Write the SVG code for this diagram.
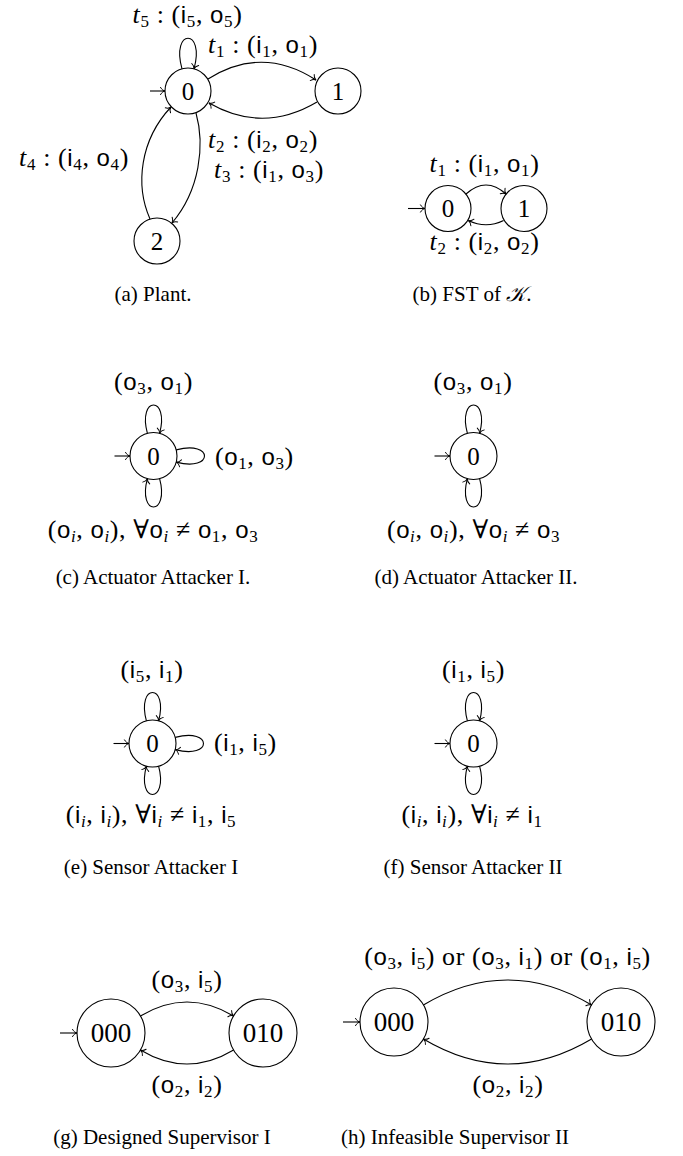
<svg xmlns="http://www.w3.org/2000/svg" width="683" height="1156" viewBox="0 0 683 1156">
<style>
.node circle { fill: none; stroke: #000; stroke-width: 1.1; }
.nl { font-family: "Liberation Serif", "DejaVu Serif", serif; font-size: 25px; text-anchor: middle; fill: #000; }
.nl3 { font-size: 27px; }
.m { font-family: "Liberation Serif", "DejaVu Serif", serif; font-size: 26px; letter-spacing: 0.6px; fill: #000; }
.sf { font-family: "Liberation Sans", "DejaVu Sans", sans-serif; font-size: 24px; }
.it { font-style: italic; }
.s { font-size: 17px; }
.cap { font-family: "Liberation Serif", "DejaVu Serif", serif; font-size: 21px; text-anchor: middle; fill: #000; }
.scr { font-family: "DejaVu Serif", "DejaVu Sans", "Noto Sans", serif; font-style: italic; }
#connectors path { fill: none; stroke: #000; stroke-width: 1.1; marker-end: url(#arr); }
</style>
<defs>
<marker id="arr" markerUnits="userSpaceOnUse" markerWidth="12" markerHeight="12" viewBox="-6 -6 12 12" refX="0" refY="0" orient="auto" overflow="visible">
<path d="M-4.5,-3.6 C-3.2,-1.2 -1.2,-0.2 0,0 C-1.2,0.2 -3.2,1.2 -4.5,3.6" fill="none" stroke="#000" stroke-width="1" stroke-linecap="round"/>
</marker>
</defs>
<rect width="683" height="1156" fill="#fff"/>

<!-- (a) Plant -->
<g id="a-n0" class="node"><circle cx="188" cy="91" r="23"/><text class="nl" x="188" y="99.5">0</text></g>
<g id="a-n1" class="node"><circle cx="338" cy="91" r="23"/><text class="nl" x="338" y="99.5">1</text></g>
<g id="a-n2" class="node"><circle cx="157" cy="241" r="23"/><text class="nl" x="157" y="249.5">2</text></g>

<!-- (b) FST -->
<g id="b-n0" class="node"><circle cx="448" cy="208.5" r="23"/><text class="nl" x="448" y="217">0</text></g>
<g id="b-n1" class="node"><circle cx="524" cy="208.5" r="23"/><text class="nl" x="524" y="217">1</text></g>

<!-- (c) -->
<g id="c-n0" class="node"><circle cx="153.5" cy="456" r="23.5"/><text class="nl" x="153.5" y="464.5">0</text></g>
<!-- (d) -->
<g id="d-n0" class="node"><circle cx="473.5" cy="456" r="23.5"/><text class="nl" x="473.5" y="464.5">0</text></g>
<!-- (e) -->
<g id="e-n0" class="node"><circle cx="152.5" cy="743.5" r="23.5"/><text class="nl" x="152.5" y="752">0</text></g>
<!-- (f) -->
<g id="f-n0" class="node"><circle cx="473.5" cy="743.5" r="23.5"/><text class="nl" x="473.5" y="752">0</text></g>

<!-- (g) -->
<g id="g-n000" class="node"><circle cx="111" cy="1033" r="34"/><text class="nl nl3" x="111" y="1042">000</text></g>
<g id="g-n010" class="node"><circle cx="263" cy="1033" r="34"/><text class="nl nl3" x="263" y="1042">010</text></g>
<!-- (h) -->
<g id="h-n000" class="node"><circle cx="394" cy="1022" r="34"/><text class="nl nl3" x="394" y="1031">000</text></g>
<g id="h-n010" class="node"><circle cx="621" cy="1022" r="34"/><text class="nl nl3" x="621" y="1031">010</text></g>

<g id="connectors">
<!-- (a) -->
<path d="M150,91 H165"/>
<path d="M182,68.8 C170.6,28 205.4,28 194,68.8"/>
<path d="M208,79 Q262,45 316,80"/>
<path d="M317,102 Q263,134 209,103"/>
<path d="M196,113 C205,145 200,190 172,223"/>
<path d="M150,219 C135,185 140,140 171,107"/>
<!-- (b) -->
<path d="M408,208.5 H425"/>
<path d="M466,194 Q486,176 506,194"/>
<path d="M503.6,220.5 Q486,229 468.4,220.5"/>
<!-- (c) -->
<g transform="translate(153.5,456)">
<path d="M-39,0 H-23.5"/>
<path d="M-6.1,-22.7 C-16.2,-60.4 16.2,-60.4 6.1,-22.7"/>
<path d="M22.7,-6.1 C60.4,-16.2 60.4,16.2 22.7,6.1"/>
<path d="M6.1,22.7 C16.2,60.4 -16.2,60.4 -6.1,22.7"/>
</g>
<!-- (d) -->
<g transform="translate(473.5,456)">
<path d="M-39,0 H-23.5"/>
<path d="M-6.1,-22.7 C-16.2,-60.4 16.2,-60.4 6.1,-22.7"/>
<path d="M6.1,22.7 C16.2,60.4 -16.2,60.4 -6.1,22.7"/>
</g>
<!-- (e) -->
<g transform="translate(152.5,743.5)">
<path d="M-39,0 H-23.5"/>
<path d="M-6.1,-22.7 C-16.2,-60.4 16.2,-60.4 6.1,-22.7"/>
<path d="M22.7,-6.1 C60.4,-16.2 60.4,16.2 22.7,6.1"/>
<path d="M6.1,22.7 C16.2,60.4 -16.2,60.4 -6.1,22.7"/>
</g>
<!-- (f) -->
<g transform="translate(473.5,743.5)">
<path d="M-39,0 H-23.5"/>
<path d="M-6.1,-22.7 C-16.2,-60.4 16.2,-60.4 6.1,-22.7"/>
<path d="M6.1,22.7 C16.2,60.4 -16.2,60.4 -6.1,22.7"/>
</g>
<!-- (g) -->
<path d="M60,1033 H77"/>
<path d="M140.4,1016 Q187,988 233.6,1016"/>
<path d="M233.6,1050 Q187,1078 140.4,1050"/>
<!-- (h) -->
<path d="M343,1022 H360"/>
<path d="M423.4,1005 Q507.5,955 591.6,1005"/>
<path d="M591.6,1039 Q507.5,1089 423.4,1039"/>
</g>

<g id="labels">
<!-- (a) -->
<text class="m" x="187.5" y="22.5" text-anchor="middle" font-size="24" letter-spacing="1"><tspan class="it">t</tspan><tspan class="s" font-size="16" dy="4">5</tspan><tspan dy="-4"> : (</tspan><tspan class="sf" font-size="22">i</tspan><tspan class="s" font-size="16" dy="4">5</tspan><tspan dy="-4">, </tspan><tspan class="sf" font-size="22">o</tspan><tspan class="s" font-size="16" dy="4">5</tspan><tspan dy="-4">)</tspan></text>
<text class="m" x="263" y="53" text-anchor="middle"><tspan class="it">t</tspan><tspan class="s" dy="4">1</tspan><tspan dy="-4"> : (</tspan><tspan class="sf">i</tspan><tspan class="s" dy="4">1</tspan><tspan dy="-4">, </tspan><tspan class="sf">o</tspan><tspan class="s" dy="4">1</tspan><tspan dy="-4">)</tspan></text>
<text class="m" x="263" y="148" text-anchor="middle"><tspan class="it">t</tspan><tspan class="s" dy="4">2</tspan><tspan dy="-4"> : (</tspan><tspan class="sf">i</tspan><tspan class="s" dy="4">2</tspan><tspan dy="-4">, </tspan><tspan class="sf">o</tspan><tspan class="s" dy="4">2</tspan><tspan dy="-4">)</tspan></text>
<text class="m" x="269" y="178" text-anchor="middle"><tspan class="it">t</tspan><tspan class="s" dy="4">3</tspan><tspan dy="-4"> : (</tspan><tspan class="sf">i</tspan><tspan class="s" dy="4">1</tspan><tspan dy="-4">, </tspan><tspan class="sf">o</tspan><tspan class="s" dy="4">3</tspan><tspan dy="-4">)</tspan></text>
<text class="m" x="74" y="166" text-anchor="middle"><tspan class="it">t</tspan><tspan class="s" dy="4">4</tspan><tspan dy="-4"> : (</tspan><tspan class="sf">i</tspan><tspan class="s" dy="4">4</tspan><tspan dy="-4">, </tspan><tspan class="sf">o</tspan><tspan class="s" dy="4">4</tspan><tspan dy="-4">)</tspan></text>
<!-- (b) -->
<text class="m" x="484.5" y="172" text-anchor="middle"><tspan class="it">t</tspan><tspan class="s" dy="4">1</tspan><tspan dy="-4"> : (</tspan><tspan class="sf">i</tspan><tspan class="s" dy="4">1</tspan><tspan dy="-4">, </tspan><tspan class="sf">o</tspan><tspan class="s" dy="4">1</tspan><tspan dy="-4">)</tspan></text>
<text class="m" x="484.5" y="250" text-anchor="middle"><tspan class="it">t</tspan><tspan class="s" dy="4">2</tspan><tspan dy="-4"> : (</tspan><tspan class="sf">i</tspan><tspan class="s" dy="4">2</tspan><tspan dy="-4">, </tspan><tspan class="sf">o</tspan><tspan class="s" dy="4">2</tspan><tspan dy="-4">)</tspan></text>
<!-- (c) -->
<text class="m" x="153.5" y="390" text-anchor="middle">(<tspan class="sf">o</tspan><tspan class="s" dy="4">3</tspan><tspan dy="-4">, </tspan><tspan class="sf">o</tspan><tspan class="s" dy="4">1</tspan><tspan dy="-4">)</tspan></text>
<text class="m" x="215" y="464.5">(<tspan class="sf">o</tspan><tspan class="s" dy="4">1</tspan><tspan dy="-4">, </tspan><tspan class="sf">o</tspan><tspan class="s" dy="4">3</tspan><tspan dy="-4">)</tspan></text>
<text class="m" x="153" y="538" text-anchor="middle">(<tspan class="sf">o</tspan><tspan class="s it" dy="4">i</tspan><tspan dy="-4">, </tspan><tspan class="sf">o</tspan><tspan class="s it" dy="4">i</tspan><tspan dy="-4">), ∀</tspan><tspan class="sf">o</tspan><tspan class="s it" dy="4">i</tspan><tspan dy="-4"> ≠ </tspan><tspan class="sf">o</tspan><tspan class="s" dy="4">1</tspan><tspan dy="-4">, </tspan><tspan class="sf">o</tspan><tspan class="s" dy="4">3</tspan></text>
<!-- (d) -->
<text class="m" x="473" y="390" text-anchor="middle">(<tspan class="sf">o</tspan><tspan class="s" dy="4">3</tspan><tspan dy="-4">, </tspan><tspan class="sf">o</tspan><tspan class="s" dy="4">1</tspan><tspan dy="-4">)</tspan></text>
<text class="m" x="473.5" y="538" text-anchor="middle">(<tspan class="sf">o</tspan><tspan class="s it" dy="4">i</tspan><tspan dy="-4">, </tspan><tspan class="sf">o</tspan><tspan class="s it" dy="4">i</tspan><tspan dy="-4">), ∀</tspan><tspan class="sf">o</tspan><tspan class="s it" dy="4">i</tspan><tspan dy="-4"> ≠ </tspan><tspan class="sf">o</tspan><tspan class="s" dy="4">3</tspan></text>
<!-- (e) -->
<text class="m" x="152" y="678" text-anchor="middle">(<tspan class="sf">i</tspan><tspan class="s" dy="4">5</tspan><tspan dy="-4">, </tspan><tspan class="sf">i</tspan><tspan class="s" dy="4">1</tspan><tspan dy="-4">)</tspan></text>
<text class="m" x="214" y="751">(<tspan class="sf">i</tspan><tspan class="s" dy="4">1</tspan><tspan dy="-4">, </tspan><tspan class="sf">i</tspan><tspan class="s" dy="4">5</tspan><tspan dy="-4">)</tspan></text>
<text class="m" x="151" y="823" text-anchor="middle">(<tspan class="sf">i</tspan><tspan class="s it" dy="4">i</tspan><tspan dy="-4">, </tspan><tspan class="sf">i</tspan><tspan class="s it" dy="4">i</tspan><tspan dy="-4">), ∀</tspan><tspan class="sf">i</tspan><tspan class="s it" dy="4">i</tspan><tspan dy="-4"> ≠ </tspan><tspan class="sf">i</tspan><tspan class="s" dy="4">1</tspan><tspan dy="-4">, </tspan><tspan class="sf">i</tspan><tspan class="s" dy="4">5</tspan></text>
<!-- (f) -->
<text class="m" x="473.5" y="678" text-anchor="middle">(<tspan class="sf">i</tspan><tspan class="s" dy="4">1</tspan><tspan dy="-4">, </tspan><tspan class="sf">i</tspan><tspan class="s" dy="4">5</tspan><tspan dy="-4">)</tspan></text>
<text class="m" x="472" y="823" text-anchor="middle">(<tspan class="sf">i</tspan><tspan class="s it" dy="4">i</tspan><tspan dy="-4">, </tspan><tspan class="sf">i</tspan><tspan class="s it" dy="4">i</tspan><tspan dy="-4">), ∀</tspan><tspan class="sf">i</tspan><tspan class="s it" dy="4">i</tspan><tspan dy="-4"> ≠ </tspan><tspan class="sf">i</tspan><tspan class="s" dy="4">1</tspan></text>
<!-- (g) -->
<text class="m" x="187" y="988" text-anchor="middle">(<tspan class="sf">o</tspan><tspan class="s" dy="4">3</tspan><tspan dy="-4">, </tspan><tspan class="sf">i</tspan><tspan class="s" dy="4">5</tspan><tspan dy="-4">)</tspan></text>
<text class="m" x="187" y="1093" text-anchor="middle">(<tspan class="sf">o</tspan><tspan class="s" dy="4">2</tspan><tspan dy="-4">, </tspan><tspan class="sf">i</tspan><tspan class="s" dy="4">2</tspan><tspan dy="-4">)</tspan></text>
<!-- (h) -->
<text class="m" x="507.5" y="965" text-anchor="middle" letter-spacing="0.9">(<tspan class="sf">o</tspan><tspan class="s" dy="4">3</tspan><tspan dy="-4">, </tspan><tspan class="sf">i</tspan><tspan class="s" dy="4">5</tspan><tspan dy="-4">) or (</tspan><tspan class="sf">o</tspan><tspan class="s" dy="4">3</tspan><tspan dy="-4">, </tspan><tspan class="sf">i</tspan><tspan class="s" dy="4">1</tspan><tspan dy="-4">) or (</tspan><tspan class="sf">o</tspan><tspan class="s" dy="4">1</tspan><tspan dy="-4">, </tspan><tspan class="sf">i</tspan><tspan class="s" dy="4">5</tspan><tspan dy="-4">)</tspan></text>
<text class="m" x="508" y="1093" text-anchor="middle">(<tspan class="sf">o</tspan><tspan class="s" dy="4">2</tspan><tspan dy="-4">, </tspan><tspan class="sf">i</tspan><tspan class="s" dy="4">2</tspan><tspan dy="-4">)</tspan></text>
</g>

<g id="captions">
<text class="cap" x="153" y="301">(a) Plant.</text>
<text class="cap" x="472" y="301">(b) FST of <tspan class="scr">𝒦</tspan>.</text>
<text class="cap" x="153" y="584">(c) Actuator Attacker I.</text>
<text class="cap" x="476" y="584">(d) Actuator Attacker II.</text>
<text class="cap" x="151" y="874">(e) Sensor Attacker I</text>
<text class="cap" x="473" y="874">(f) Sensor Attacker II</text>
<text class="cap" x="162" y="1144">(g) Designed Supervisor I</text>
<text class="cap" x="455" y="1144">(h) Infeasible Supervisor II</text>
</g>
</svg>
